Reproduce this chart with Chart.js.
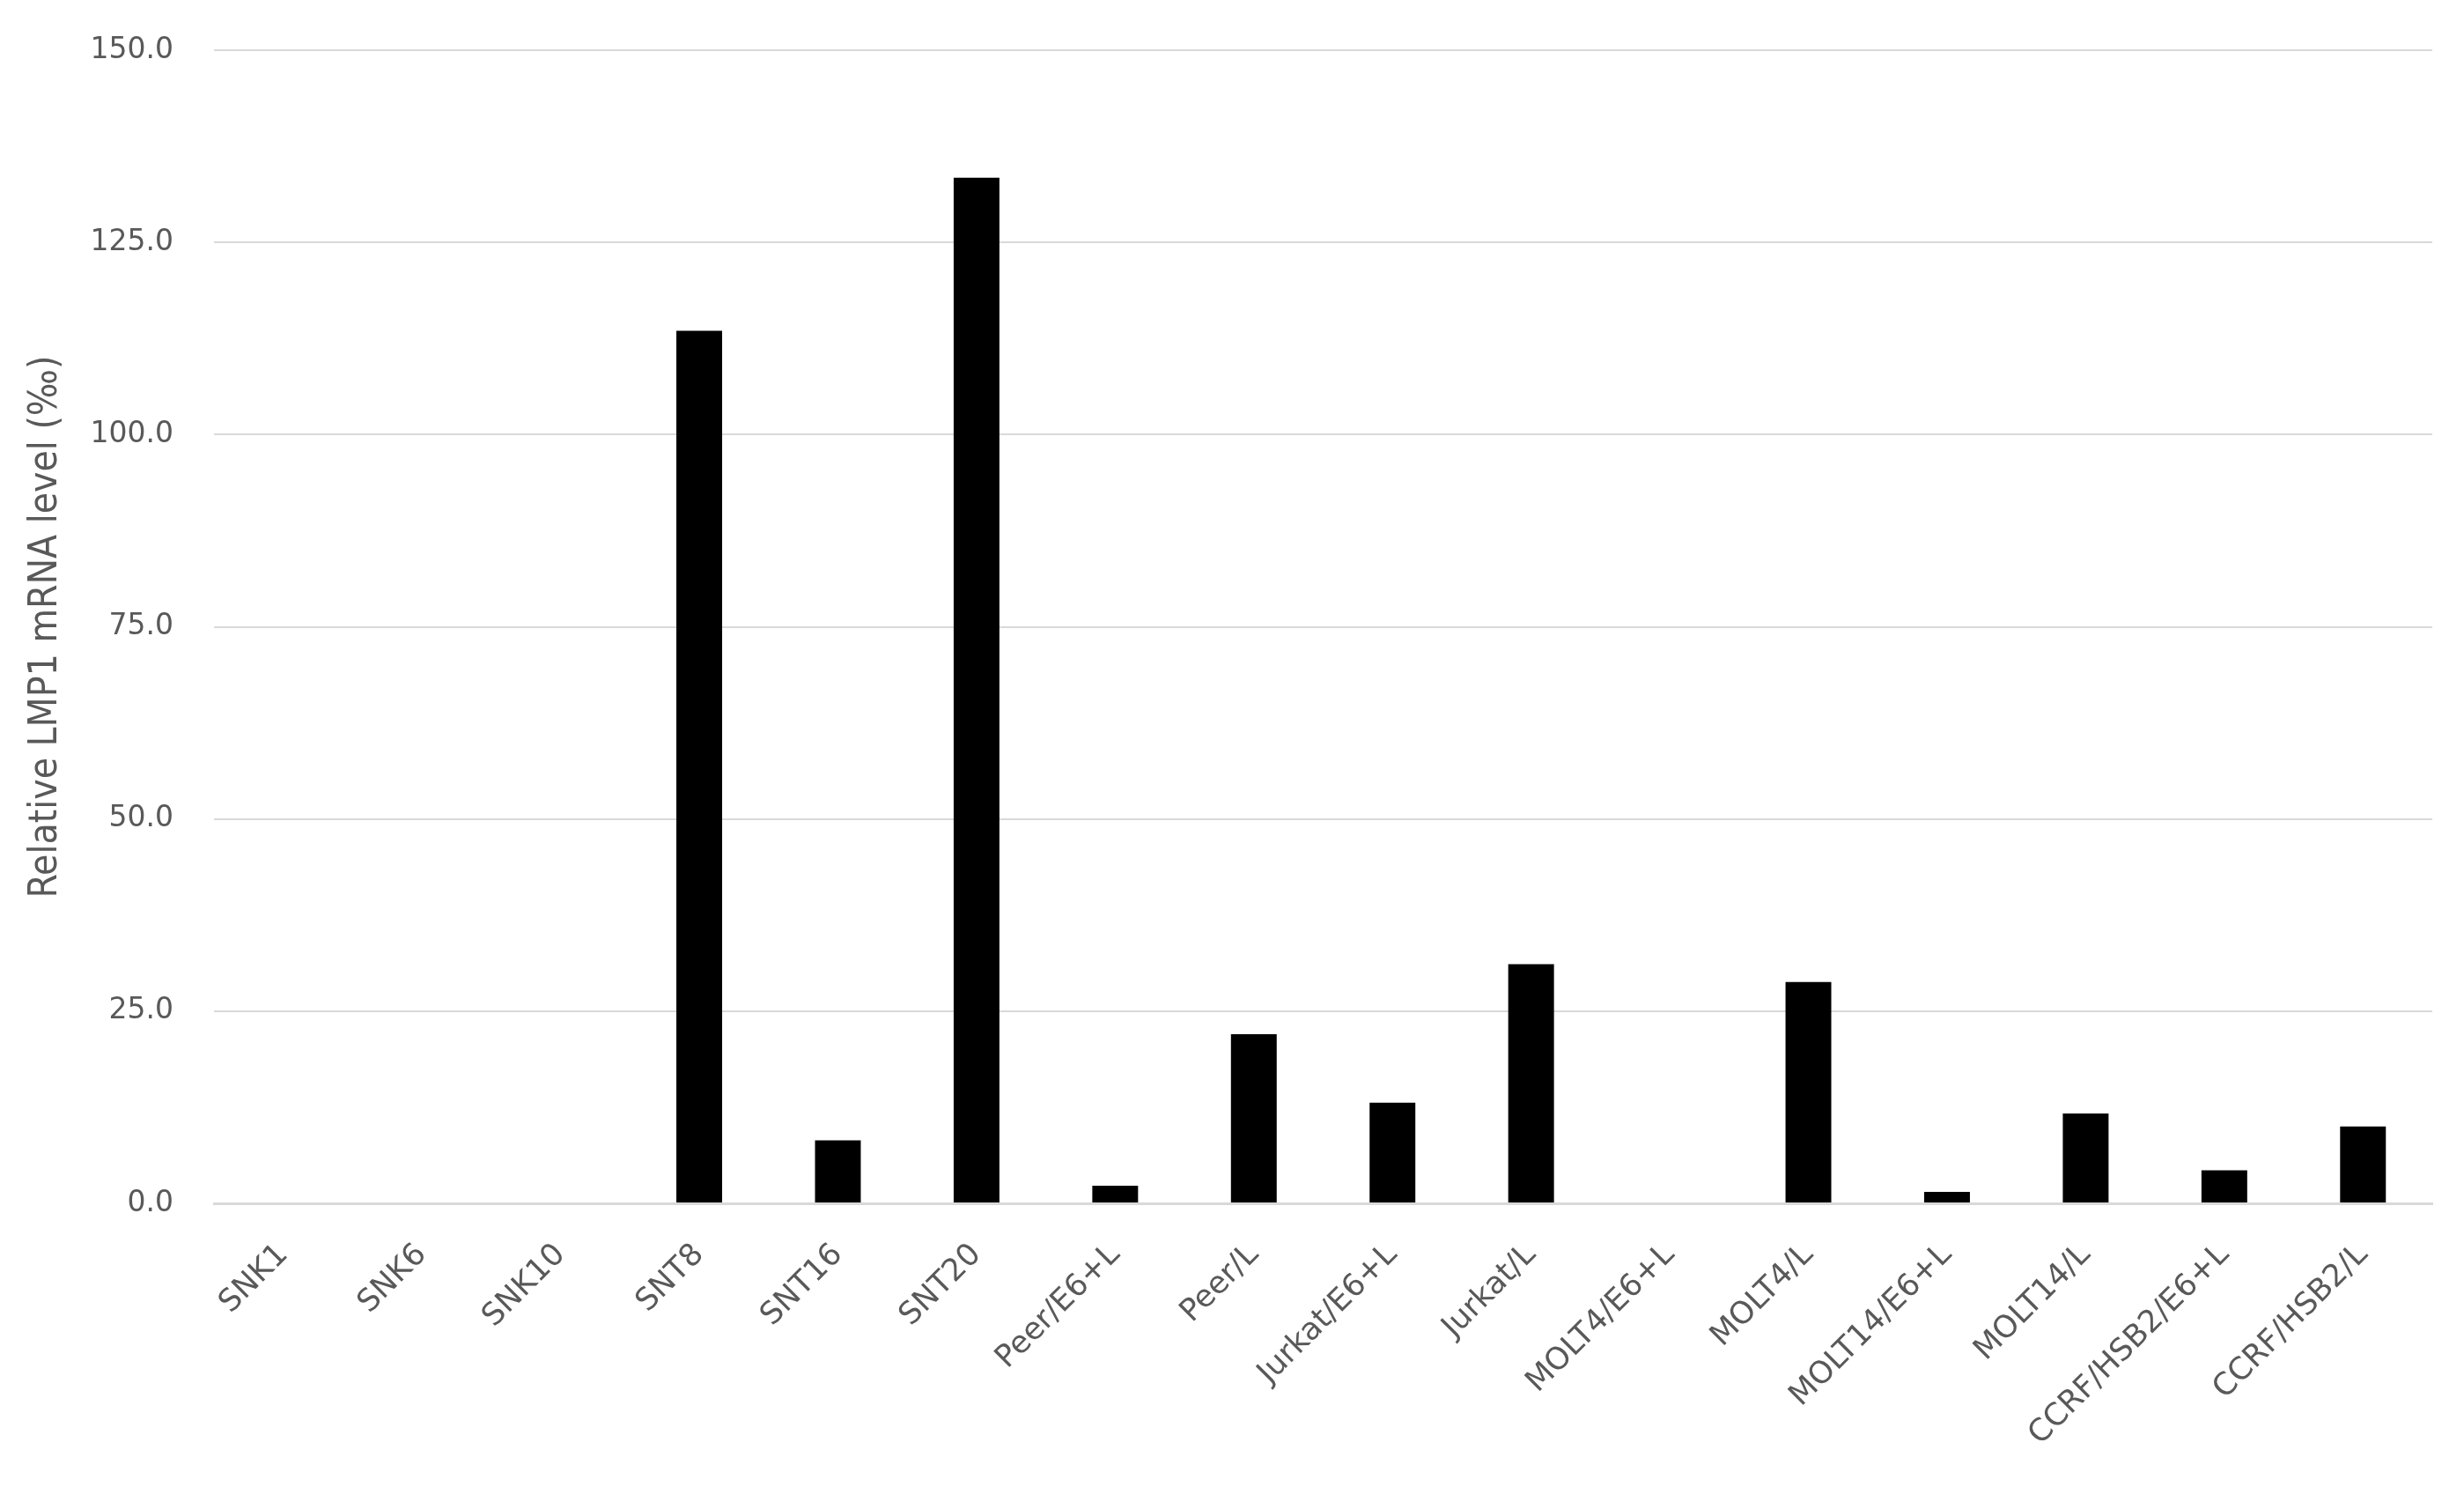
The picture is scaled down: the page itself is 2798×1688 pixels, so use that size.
<!DOCTYPE html>
<html>
<head>
<meta charset="utf-8">
<script src="https://cdn.jsdelivr.net/npm/chart.js@4/dist/chart.umd.min.js"></script>
<style>
  html, body { margin: 0; padding: 0; background: #fff; }
  #wrap { width: 2798px; height: 1688px; }
</style>
</head>
<body>
<div id="wrap"><canvas id="chart" width="2798" height="1688"></canvas></div>
<script>
const categories = ['SNK1', 'SNK6', 'SNK10', 'SNT8', 'SNT16', 'SNT20', 'Peer/E6+L', 'Peer/L',
  'Jurkat/E6+L', 'Jurkat/L', 'MOLT4/E6+L', 'MOLT4/L', 'MOLT14/E6+L', 'MOLT14/L',
  'CCRF/HSB2/E6+L', 'CCRF/HSB2/L'];
const lmp1Levels = [0, 0, 0, 113.5, 8.2, 133.4, 2.3, 22.0, 13.1, 31.1, 0, 28.8, 1.5, 11.7, 4.3, 10.0];
const yTicks = [0, 25, 50, 75, 100, 125, 150];

const grey = '#595959';
const gridGrey = '#d9d9d9';

new Chart(document.getElementById('chart'), {
  type: 'bar',
  data: {
    labels: categories,
    datasets: [{
      data: lmp1Levels,
      backgroundColor: '#000',
      borderWidth: 0,
      categoryPercentage: 1,
      barPercentage: 0.33
    }]
  },
  options: {
    responsive: false,
    animation: false,
    layout: { padding: { top: 57, right: 36, bottom: 0, left: 0 } },
    plugins: { legend: { display: false }, tooltip: { enabled: false } },
    scales: {
      x: {
        grid: { display: false },
        border: { display: true, color: gridGrey, width: 3 },
        ticks: {
          color: grey,
          font: { family: '"DejaVu Sans", sans-serif', size: 35 },
          minRotation: 45, maxRotation: 45,
          autoSkip: false,
          padding: 30
        },
        afterFit: s => { s.height = 322; s.paddingRight = 0; s.paddingLeft = 0; }
      },
      y: {
        min: 0, max: 150,
        afterBuildTicks: s => { s.ticks = yTicks.map(v => ({ value: v })); },
        grid: { color: gridGrey, lineWidth: 2, drawTicks: false },
        border: { display: false },
        ticks: {
          color: grey,
          font: { family: '"DejaVu Sans", sans-serif', size: 33 },
          padding: 46,
          callback: v => v.toFixed(1)
        },
        title: {
          display: true,
          text: 'Relative LMP1 mRNA level (‰)',
          color: grey,
          font: { family: '"DejaVu Sans Condensed", "Liberation Sans Narrow", sans-serif', size: 44 },
          padding: { top: 26, bottom: 0 }
        },
        afterFit: s => { s.width = 243; s.paddingTop = 0; s.paddingBottom = 0; }
      }
    }
  }
});
</script>
</body>
</html>
